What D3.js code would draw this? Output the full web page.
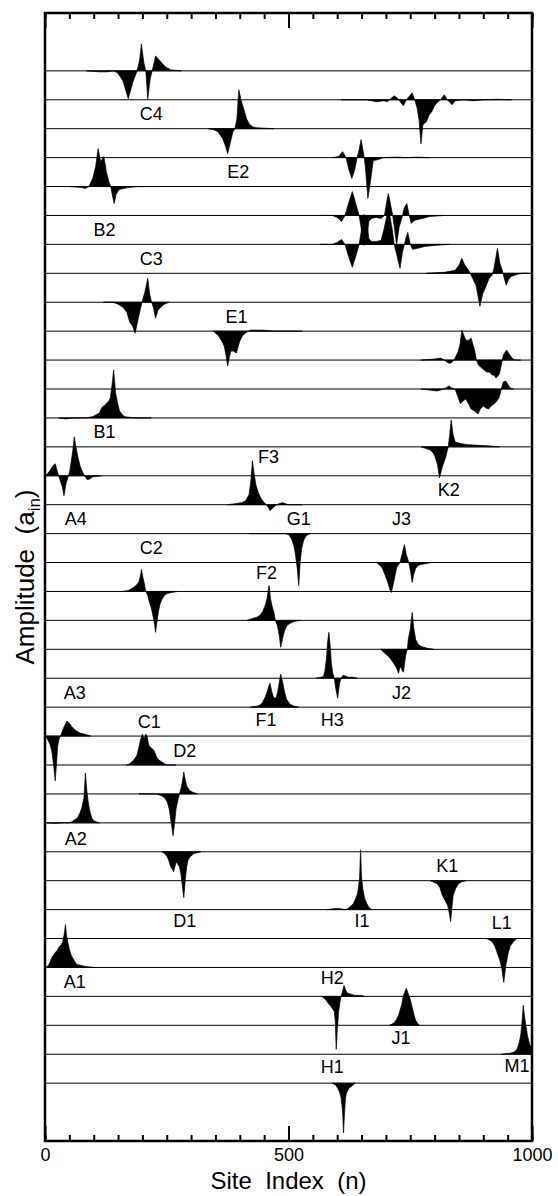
<!DOCTYPE html>
<html>
<head>
<meta charset="utf-8">
<script src="https://cdn.jsdelivr.net/npm/d3@7"></script>
<style>
  html, body { margin: 0; padding: 0; background: #fff; }
  svg { display: block; }
  text { font-family: "Liberation Sans", Arial, Helvetica, sans-serif; fill: #000; }
</style>
</head>
<body>
<svg id="chart" width="558" height="1196"></svg>
<script>
// Each trace is a list of [site index n, amplitude], listed top to bottom.
const traceC4 = [[85,0],[112,-1],[127,-1],[140,0],[149,-2],[160,-10],[171,-28],[180,-12],[189,0],[194,10],[198,27],[203,8],[207,0],[211,-28],[216,-8],[220,0],[224,8],[227,15],[236,10],[247,4],[258,1],[280,0]];
const trace01 = [[608,0],[660,0],[681,-2],[695,-1],[703,-2],[712,2],[718,4],[725,1],[731,-3],[736,-6],[742,0],[749,4],[754,7],[759,0],[764,-8],[768,-20],[772,-44],[776,-25],[783,-22],[789,-15],[794,-12],[800,-6],[805,-3],[812,0],[820,5],[826,0],[830,-2],[836,-5],[842,-1],[860,0],[880,-1],[900,0],[930,0.5],[958,0]];
const traceE2 = [[335,0],[346,-1],[355,-3],[365,-10],[371,-18],[375,-25],[380,-15],[386,-3],[390,0],[394,10],[398,39],[403,28],[408,20],[414,10],[419,5],[426,2],[433,1],[450,0.5],[470,0]];
const trace03 = [[590,0],[603,1],[611,6],[618,0],[624,-12],[630,-21],[636,-12],[641,0],[645,8],[649,18],[654,5],[658,-10],[663,-41],[668,-25],[674,-3],[684,-2],[695,0],[724,0.5],[740,0],[765,0.5],[790,0]];
const traceB2 = [[50,0],[75,-1],[83,-2],[90,0],[98,8],[104,20],[109,38],[113,28],[115,25],[118,28],[121,30],[126,15],[131,5],[135,0],[138,-8],[142,-17],[146,-8],[152,-3],[171,-1],[190,0],[233,0]];
const trace05 = [[565,0],[590,0],[600,-2],[609,-6],[616,0],[622,10],[631,24],[638,12],[645,0],[650,-15],[655,-30],[660,-26],[665,-6],[670,-3],[680,-2],[690,-3],[697,0],[701,12],[705,22],[710,10],[714,0],[718,-15],[722,-29],[727,-12],[733,-2],[738,8],[743,12],[748,0],[752,-8],[758,-5],[765,-4],[775,-3],[790,-1],[820,0]];
const trace06 = [[565,0],[590,0],[600,2],[609,5],[616,0],[622,-10],[631,-23],[638,-12],[645,0],[650,15],[655,30],[660,26],[665,6],[670,3],[680,3],[690,4],[696,15],[702,29],[708,29],[713,15],[717,0],[722,-10],[729,-24],[734,-8],[738,0],[742,8],[745,12],[750,0],[755,-5],[765,-4],[780,-2],[800,-1],[830,0]];
const trace07 = [[783,0],[820,1],[842,3],[850,8],[856,15],[862,8],[867,5],[873,0],[878,-5],[885,-12],[893,-33],[899,-20],[904,-15],[912,-5],[918,-2],[922,5],[929,25],[934,10],[939,3],[943,-5],[947,-12],[952,-6],[958,-3],[970,-1],[980,0],[995,0]];
const traceC3 = [[120,0],[140,0],[150,-2],[160,-5],[168,-10],[174,-20],[180,-24],[185,-31],[192,-15],[199,0],[205,10],[211,24],[215,8],[219,0],[223,-6],[227,-16],[232,-8],[238,-5],[245,-2],[255,0]];
const traceE1 = [[346,0],[357,-5],[363,-10],[368,-15],[372,-25],[375,-35],[379,-25],[382,-20],[387,-20],[393,-22],[397,-15],[400,-10],[405,-5],[411,-2],[418,0],[422,1],[448,1],[470,0],[528,0]];
const trace10 = [[772,0],[800,1],[813,2],[820,0],[828,-3],[834,-3],[840,0],[848,8],[852,15],[856,30],[860,25],[864,20],[870,20],[875,22],[879,15],[882,10],[886,0],[890,-5],[897,-8],[902,-10],[907,-12],[913,-12],[918,-15],[922,-15],[926,-18],[930,-16],[933,-14],[937,-5],[941,5],[945,8],[948,10],[953,6],[959,2],[965,0],[977,0]];
const trace11 = [[772,0],[805,-2],[820,0],[826,2],[830,3],[835,1],[842,0],[848,-8],[853,-15],[858,-12],[864,-10],[870,-15],[875,-20],[882,-22],[889,-25],[894,-20],[900,-17],[905,-19],[911,-20],[916,-17],[922,-15],[928,-12],[933,-8],[937,0],[941,7],[946,8],[950,5],[955,1],[962,0]];
const traceB1 = [[28,0],[43,-1],[60,0],[83,0],[95,1],[101,2],[108,4],[112,5],[116,10],[120,12],[124,13],[127,15],[131,17],[134,20],[137,30],[141,48],[145,25],[149,15],[153,7],[156,5],[161,2],[167,1],[185,0],[218,0]];
const traceK2 = [[772,0],[790,-3],[797,-6],[801,-10],[806,-18],[810,-31],[816,-20],[823,-10],[828,0],[831,12],[834,27],[838,12],[842,5],[848,4],[856,3],[871,2],[893,1.5],[910,1],[933,0]];
const traceA4 = [[0,0],[5,2],[10,5],[16,10],[21,12],[25,5],[28,0],[32,-6],[36,-12],[39,-20],[43,-8],[48,0],[51,5],[54,15],[57,25],[60,39],[64,28],[67,20],[72,10],[76,5],[81,0],[87,-4],[93,-3],[98,-1],[116,0]];
const traceF3 = [[375,0],[390,1],[404,2],[412,4],[419,10],[423,25],[426,44],[429,32],[433,20],[438,12],[444,6],[450,2],[455,0],[459,-3],[462,-6],[466,-4],[473,-1],[480,1],[488,2],[494,1],[499,0],[528,0]];
const traceG1 = [[419,0],[492,0],[500,-1],[506,-5],[511,-12],[514,-20],[518,-35],[521,-52],[524,-28],[527,-15],[531,-7],[535,-3],[540,-1],[546,0]];
const traceJ3 = [[681,0],[692,-5],[698,-12],[704,-20],[708,-27],[711,-30],[714,-24],[718,-15],[722,-5],[729,0],[733,8],[738,18],[742,8],[747,0],[751,-10],[754,-20],[757,-12],[761,-6],[766,-3],[772,-2],[782,-1],[794,0]];
const traceC2 = [[160,0],[171,1],[182,4],[189,7],[193,10],[196,16],[198,22],[201,14],[204,8],[207,0],[211,-4],[214,-10],[218,-16],[222,-25],[225,-33],[227,-41],[230,-30],[233,-20],[236,-13],[240,-8],[245,-4],[251,-2],[260,-1],[273,0]];
const traceF2 = [[415,0],[426,2],[434,3],[441,5],[447,9],[452,15],[456,22],[460,35],[463,22],[466,15],[470,8],[473,0],[477,-5],[481,-15],[484,-27],[488,-18],[492,-10],[497,-5],[503,-3],[512,-1],[524,0]];
const traceJ2 = [[689,0],[700,-5],[705,-7],[710,-10],[716,-14],[721,-18],[726,-24],[729,-18],[731,-18],[734,-22],[736,-23],[739,-12],[741,-5],[744,0],[746,10],[750,20],[754,37],[757,22],[761,10],[766,5],[772,3],[785,1],[798,0]];
const traceH3 = [[557,0],[567,1],[572,2],[575,8],[578,20],[580,35],[583,46],[586,30],[588,15],[591,5],[594,0],[597,-10],[601,-20],[603,-12],[605,-5],[608,0],[612,3],[618,2],[623,1],[632,1],[641,0]];
const traceF1 = [[422,0],[435,1],[441,2],[447,5],[452,10],[456,15],[459,20],[462,24],[466,15],[469,10],[472,9],[475,10],[478,16],[481,25],[484,33],[488,25],[492,15],[496,8],[503,3],[512,1],[521,0]];
const traceA3 = [[0,0],[5,-3],[10,-8],[14,-15],[18,-30],[21,-45],[24,-25],[26,-10],[29,-3],[32,0],[35,4],[38,8],[42,12],[45,15],[50,13],[54,10],[60,7],[65,5],[72,3],[80,2],[87,1],[94,0]];
const traceC1 = [[167,0],[173,1],[178,3],[184,6],[189,10],[193,18],[196,25],[200,31],[202,28],[204,27],[207,31],[210,28],[213,20],[216,18],[218,17],[221,16],[223,15],[226,12],[229,8],[234,5],[240,3],[246,1],[251,0],[269,0]];
const traceD2 = [[193,0],[229,0],[240,-2],[246,-4],[251,-8],[255,-15],[258,-25],[261,-35],[263,-42],[266,-30],[269,-15],[273,-6],[276,0],[279,5],[282,12],[285,22],[288,14],[291,8],[296,4],[302,2],[313,0]];
const traceA2 = [[3,0],[15,-0.5],[25,-0.5],[35,0],[47,0],[55,1],[61,3],[67,5],[72,10],[76,16],[80,25],[83,50],[86,32],[89,20],[92,12],[96,5],[100,2],[105,1],[112,0]];
const traceD1 = [[240,0],[246,-2],[251,-5],[255,-10],[258,-15],[262,-18],[264,-20],[267,-15],[269,-10],[272,-12],[276,-15],[279,-22],[281,-30],[283,-38],[285,-46],[288,-28],[291,-15],[294,-8],[298,-5],[305,-2],[312,-1],[320,0]];
const traceK1 = [[791,0],[805,-3],[811,-7],[816,-15],[822,-20],[827,-25],[830,-32],[833,-41],[836,-25],[838,-15],[843,-8],[849,-3],[856,-1],[864,0]];
const traceI1 = [[579,0],[595,1],[605,1],[616,0],[622,1],[627,3],[633,6],[637,10],[641,15],[643,20],[646,32],[648,60],[650,32],[653,20],[656,12],[659,8],[664,3],[670,0]];
const traceL1 = [[907,0],[918,-3],[924,-8],[929,-15],[934,-22],[938,-30],[942,-44],[945,-32],[947,-25],[951,-15],[955,-8],[962,-3],[969,0]];
const traceA1 = [[0,0],[4,1],[7,2],[10,5],[14,10],[18,13],[21,15],[25,17],[28,20],[32,22],[36,25],[39,32],[42,43],[44,33],[47,25],[50,18],[54,12],[60,7],[65,3],[75,2],[83,1],[101,0]];
const traceH2 = [[568,0],[574,-2],[579,-5],[583,-8],[587,-10],[591,-13],[594,-15],[596,-25],[598,-53],[600,-35],[603,-15],[606,-5],[608,0],[611,5],[614,11],[617,7],[620,4],[623,3],[630,2],[637,1],[650,1],[656,0]];
const traceJ1 = [[707,0],[712,1],[718,3],[722,6],[726,10],[729,15],[733,22],[736,30],[740,35],[742,37],[745,33],[747,30],[750,26],[754,18],[758,10],[761,5],[765,2],[769,0]];
const traceM1 = [[937,0],[955,1],[962,2],[966,3],[970,6],[974,12],[977,20],[980,35],[982,49],[984,40],[987,30],[991,18],[995,10],[1000,5]];
const traceH1 = [[590,0],[597,-2],[601,-5],[605,-9],[608,-15],[611,-28],[613,-50],[615,-30],[617,-15],[619,-10],[624,-5],[630,-3],[637,0]];

const traces = [
  traceC4, trace01, traceE2, trace03, traceB2, trace05, trace06, trace07, traceC3,
  traceE1, trace10, trace11, traceB1, traceK2, traceA4, traceF3, traceG1, traceJ3,
  traceC2, traceF2, traceJ2, traceH3, traceF1, traceA3, traceC1, traceD2, traceA2,
  traceD1, traceK1, traceI1, traceL1, traceA1, traceH2, traceJ1, traceM1, traceH1
];

// Peak labels: name, site index, level counted in rows from the top trace
const labelNames  = ['C4','E2','B2','C3','E1','B1','F3','K2','A4','G1','J3','C2','F2','A3','J2','C1','F1','H3','D2','A2','K1','D1','I1','L1','A1','H2','J1','M1','H1'];
const labelSites  = [218, 397, 122, 218, 393, 122, 459, 829, 63, 521, 732, 218, 455, 61, 732, 214, 454, 590, 287, 63, 826, 287, 651, 938, 61, 590, 731, 969, 590];
const labelLevels = [1.5, 3.5, 5.5, 6.5, 8.5, 12.5, 13.35, 14.5, 15.5, 15.5, 15.5, 16.5, 17.35, 21.5, 21.5, 22.5, 22.45, 22.45, 23.5, 26.55, 27.5, 29.4, 29.4, 29.45, 31.5, 31.35, 33.45, 34.4, 34.45];

const minorTicks = [0, 50, 100, 150, 200, 250, 300, 350, 400, 450, 500, 550, 600, 650, 700, 750, 800, 850, 900, 950, 1000];
const majorTicks = [0, 500, 1000];

const ROW_STEP = 29;          // amplitude offset between neighbouring traces
const ROWS = traces.length;

const svg = d3.select('#chart');
const plotLeft = 45, plotRight = 532, plotTop = 13, plotBottom = 1141;

const x = d3.scaleLinear().domain([0, 1000]).range([plotLeft, plotRight]);
const y = d3.scaleLinear().domain([-2 * ROW_STEP, (ROWS + 1) * ROW_STEP]).range([plotBottom, plotTop]);

const plot = svg.append('g');

traces.forEach((trace, i) => {
  const base = (ROWS - 1 - i) * ROW_STEP;

  plot.append('line')
    .attr('x1', x(0)).attr('x2', x(1000))
    .attr('y1', y(base)).attr('y2', y(base))
    .attr('stroke', '#000')
    .attr('stroke-width', 1);

  const area = d3.area()
    .x(d => x(d[0]))
    .y0(y(base))
    .y1(d => y(base + d[1]));

  plot.append('path')
    .datum(trace)
    .attr('d', area)
    .attr('fill', '#000')
    .attr('stroke', '#000')
    .attr('stroke-width', 0.7)
    .attr('stroke-linejoin', 'round');
});

// labels
labelNames.forEach((name, i) => {
  svg.append('text')
    .attr('x', x(labelSites[i]))
    .attr('y', y((ROWS - 1 - labelLevels[i]) * ROW_STEP))
    .attr('text-anchor', 'middle')
    .attr('dominant-baseline', 'central')
    .style('font-size', '18px')
    .text(name);
});

// ticks, inward on bottom and top
function styleAxis(g) {
  g.select('.domain').remove();
  g.selectAll('.tick line').attr('stroke', '#000').attr('stroke-width', 2);
}

svg.append('g')
  .attr('transform', `translate(0,${plotBottom})`)
  .call(d3.axisBottom(x).tickValues(minorTicks).tickSize(-6).tickFormat(''))
  .call(styleAxis);

svg.append('g')
  .attr('transform', `translate(0,${plotBottom})`)
  .call(d3.axisBottom(x).tickValues(majorTicks).tickSize(-15).tickPadding(7).tickFormat(d3.format('d')))
  .call(styleAxis)
  .selectAll('text')
  .style('font-size', '18px');

svg.append('g')
  .attr('transform', `translate(0,${plotTop})`)
  .call(d3.axisTop(x).tickValues(minorTicks).tickSize(-6).tickFormat(''))
  .call(styleAxis);

svg.append('g')
  .attr('transform', `translate(0,${plotTop})`)
  .call(d3.axisTop(x).tickValues(majorTicks).tickSize(-15).tickFormat(''))
  .call(styleAxis);

// frame
svg.append('rect')
  .attr('x', plotLeft).attr('y', plotTop)
  .attr('width', plotRight - plotLeft).attr('height', plotBottom - plotTop)
  .attr('fill', 'none')
  .attr('stroke', '#000')
  .attr('stroke-width', 2.5);

// axis titles
svg.append('text')
  .attr('x', (plotLeft + plotRight) / 2)
  .attr('y', 1189)
  .attr('text-anchor', 'middle')
  .attr('xml:space', 'preserve')
  .style('white-space', 'pre')
  .style('font-size', '24px')
  .text('Site  Index  (n)');

const yTitle = svg.append('text')
  .attr('transform', `translate(34,${(plotTop + plotBottom) / 2}) rotate(-90)`)
  .attr('text-anchor', 'middle')
  .attr('xml:space', 'preserve')
  .style('white-space', 'pre')
  .style('font-size', '26px');
yTitle.append('tspan').text('Amplitude  (a');
yTitle.append('tspan').attr('dy', 6).style('font-size', '17px').text('in');
yTitle.append('tspan').attr('dy', -6).text(')');
</script>
</body>
</html>
